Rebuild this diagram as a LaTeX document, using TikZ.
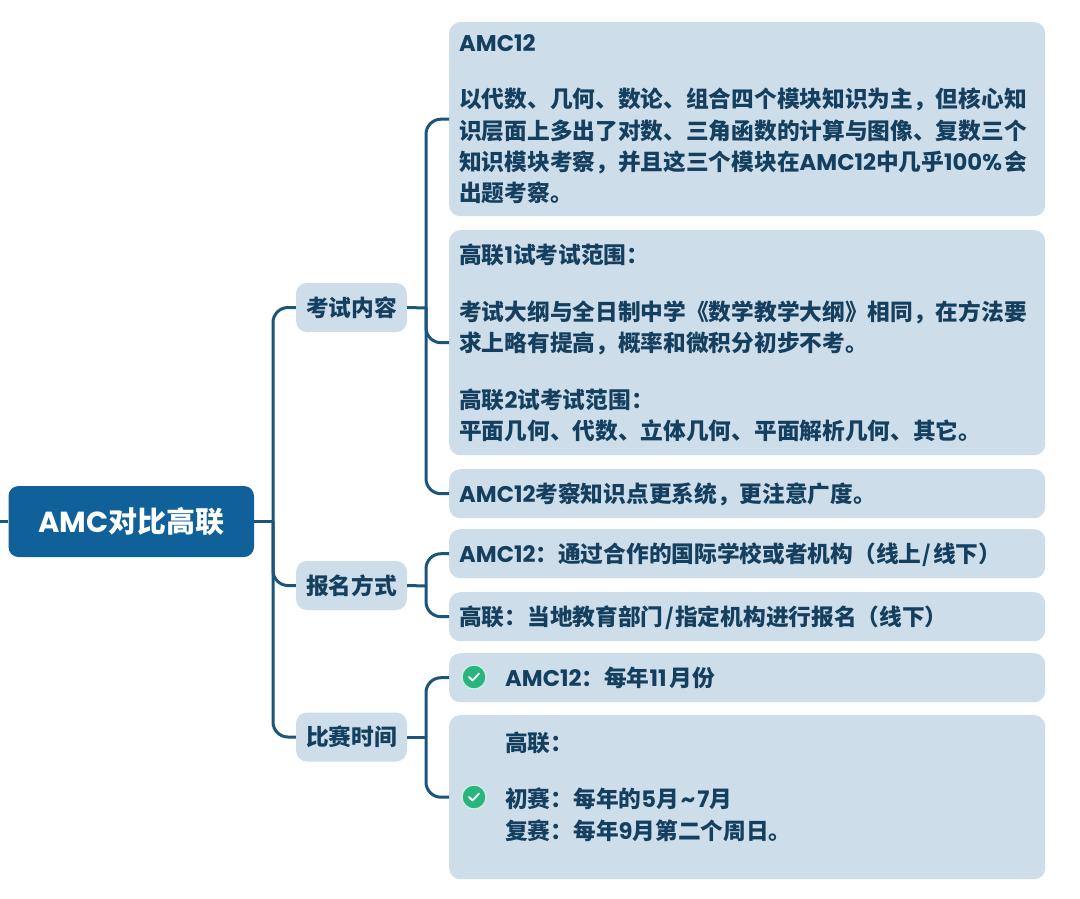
\documentclass[tikz,border=0pt]{standalone}
\usepackage{fontspec}
\setmainfont{Noto Sans CJK SC}
\newfontfamily\latf{Poppins}
\newcommand{\lat}[1]{{\latf #1}}
\newcommand{\dn}{\rule{0pt}{22pt}}
\newcommand{\slashgap}{\hspace{1.5pt}/\hspace{1.5pt}}
\definecolor{rootblue}{HTML}{10609A}
\definecolor{boxblue}{HTML}{CDDDE9}
\definecolor{inkblue}{HTML}{153F5E}
\definecolor{linkblue}{HTML}{1A5679}
\definecolor{okgreen}{HTML}{2BB57E}
\tikzset{
  rootbox/.style={fill=rootblue,text=white,rounded corners=10pt,inner sep=0pt,minimum width=245.5pt,minimum height=71pt,font=\fontsize{29}{34}\selectfont\bfseries},
  midbox/.style={fill=boxblue,text=inkblue,rounded corners=11pt,inner sep=0pt,minimum width=111pt,minimum height=49pt,font=\fontsize{22.7}{30}\selectfont\bfseries},
  leafbox/.style={fill=boxblue,text=inkblue,rounded corners=11pt,inner ysep=0pt,inner xsep=10pt,text width=576pt,align=left,anchor=north west,font=\fontsize{22.7}{31.3}\selectfont\bfseries},
  conn/.style={draw=linkblue,line width=3pt,rounded corners=15pt},
  okdot/.style={circle,fill=okgreen,draw=white!80!okgreen,line width=1.2pt,minimum size=24pt,inner sep=0pt},
}
\newcommand{\pad}{\hspace*{46pt}}
\begin{document}
\begin{tikzpicture}[x=1pt,y=-1pt]
\useasboundingbox (0,0) rectangle (1080,898);
\fill[white] (0,0) rectangle (1080,898);
% connector junctions
\coordinate (stub) at (0,521);
\coordinate (t0) at (273,521);
\coordinate (t1) at (426,308);
\coordinate (t2) at (426,586);
\coordinate (t3) at (426,737);
% nodes
\node[rootbox] (root) at (131.25,521.5) {\lat{AMC}对比高联};
\node[midbox] (m1) at (351.5,307.5) {考试内容};
\node[midbox] (m2) at (351.5,585.5) {报名方式};
\node[midbox] (m3) at (351.5,737) {比赛时间};
\node[leafbox,minimum height=194pt] (a1) at (449,22) {\lat{AMC12}\\[25pt]
以代数、几何、数论、组合四个模块知识为主，但核心知\\
识层面上多出了对数、三角函数的计算与图像、复数三个\\
知识模块考察，并且这三个模块在\lat{AMC12}中几乎\lat{100\%}\hspace{2pt}会\\
出题考察。};
\node[leafbox,minimum height=225pt] (a2) at (449,230) {高联\lat{1}试考试范围：\\[25.5pt]
考试大纲与全日制中学《数学教学大纲》相同，在方法要\\
求上略有提高，概率和微积分初步不考。\\[25.5pt]
高联\lat{2}试考试范围：\\
平面几何、代数、立体几何、平面解析几何、其它。};
\node[leafbox,minimum height=49pt] (a3) at (449,469) {\dn\lat{AMC12}考察知识点更系统，更注意广度。};
\node[leafbox,minimum height=49pt] (b1) at (449,529) {\dn\lat{AMC12}：通过合作的国际学校或者机构（线上\slashgap 线下）};
\node[leafbox,minimum height=49pt] (b2) at (449,592) {\dn 高联：当地教育部门\slashgap 指定机构进行报名（线下）};
\node[leafbox,minimum height=49pt] (c1) at (449,653) {\pad\lat{AMC12}：每年\lat{11}\hspace{3pt}月份};
\node[leafbox,minimum height=164pt] (c2) at (449,715) {\pad 高联：\\[25pt]
\pad 初赛：每年的\lat{5}月\hspace{2pt}\lat{\textasciitilde}\hspace{2pt}\lat{7}月\\
\pad 复赛：每年\lat{9}月第二个周日。\\[-8pt]
\mbox{}};
\node[okdot] (k1) at (474,677) {};
\node[okdot] (k2) at (474,797) {};
\draw[white,line width=1.8pt,line cap=round,line join=round] ([xshift=-5pt,yshift=0pt]k1.center) -- ++(3.5,3.5) -- ++(6.5,-7);
\draw[white,line width=1.8pt,line cap=round,line join=round] ([xshift=-5pt,yshift=0pt]k2.center) -- ++(3.5,3.5) -- ++(6.5,-7);
% connectors
\draw[conn] (stub) -- (root.west |- stub);
\draw[conn] (root.east |- t0) -- (t0);
\draw[conn] (t0) |- (m1.west);
\draw[conn] (t0) |- (m2.west);
\draw[conn] (t0) |- (m3.west);
\draw[conn] (m1.east) -- (t1);
\draw[conn] (t1) |- (a1.west);
\draw[conn] (t1) |- (a2.west);
\draw[conn] (t1) |- (a3.west);
\draw[conn] (m2.east) -- (t2);
\draw[conn] (t2) |- (b1.west);
\draw[conn] (t2) |- (b2.west);
\draw[conn] (m3.east) -- (t3);
\draw[conn] (t3) |- (c1.west);
\draw[conn] (t3) |- (c2.west);
\end{tikzpicture}
\end{document}
